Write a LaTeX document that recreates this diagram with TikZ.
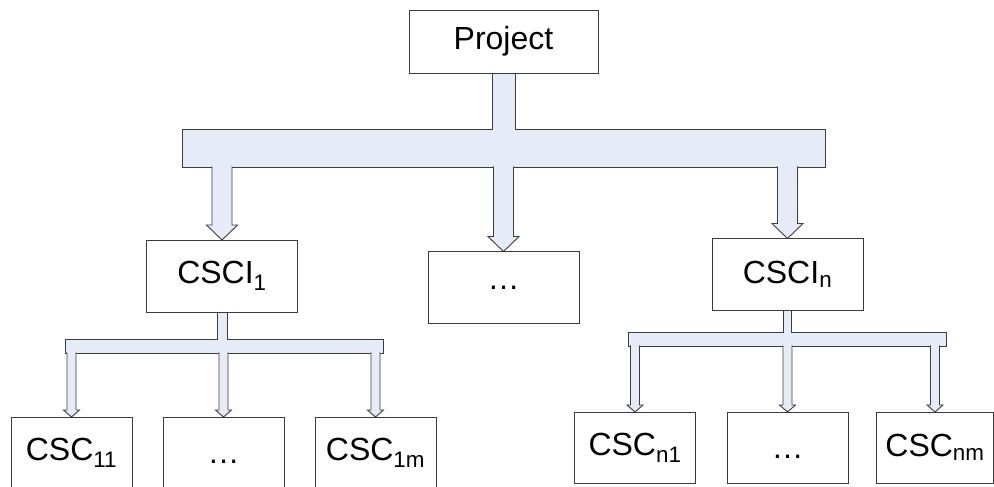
\documentclass[tikz,border=0pt]{standalone}
\usepackage{fontspec}
\setmainfont{Liberation Sans}
\usetikzlibrary{calc}
\definecolor{busfill}{RGB}{229,236,247}
\definecolor{edge}{RGB}{60,60,60}

\begin{document}
\begin{tikzpicture}[x=1pt,y=-1pt]
\useasboundingbox (0,0) rectangle (994,487);
\tikzstyle{box}=[draw=edge, line width=0.9pt, fill=white, inner sep=0pt, outer sep=0pt,
                 minimum width=151pt, minimum height=72pt, font=\fontsize{32}{36}\selectfont]
\tikzstyle{leaf}=[box, minimum width=121pt, minimum height=71pt]
\tikzstyle{bus}=[draw=edge, line width=0.9pt, fill=busfill]
\tikzstyle{busbar}=[bus, inner sep=0pt, outer sep=0pt]
% boxes
\node[box, minimum width=189pt, minimum height=63pt](proj) at (503.5,41.5){Project};
\node[box](csci1) at (222,276){CSCI\textsubscript{1}};
\node[box](dots) at (503.5,287.5){\dots};
\node[box](cscin) at (787.5,274.5){CSCI\textsubscript{n}};
\node[leaf](csc11) at (71.5,452.5){CSC\textsubscript{11}};
\node[leaf](csc1d) at (223.5,452.5){\vphantom{C}\dots};
\node[leaf](csc1m) at (375.5,452.5){CSC\textsubscript{1m}};
\node[leaf](cscn1) at (635,447.5){CSC\textsubscript{n1}};
\node[leaf](cscnd) at (787.5,447.5){\vphantom{C}\dots};
\node[leaf, minimum width=117pt](cscnm) at (935,447.5){CSC\textsubscript{nm}};
% bus bars
\node[busbar, minimum width=643pt, minimum height=38pt](bar) at (503.5,148){};
\node[busbar, minimum width=318pt, minimum height=14pt](bar1) at (224,346){};
\node[busbar, minimum width=318pt, minimum height=14pt](barn) at (787,339){};
% stems
\foreach \a/\b/\w in {proj/bar/11.5pt, csci1/bar1/5pt, cscin/barn/4pt}{
 \filldraw[bus] let \p1=(\a.south), \p2=(\b.north) in
  (\x1-\w,\y2-0.6pt) -- (\x1-\w,\y1) -- (\x1+\w,\y1) -- (\x1+\w,\y2-0.6pt);}
% big arrows
\foreach \b/\c in {bar/csci1, bar/dots, bar/cscin}{
 \filldraw[bus] let \p1=(\c.north), \p2=(\b.south) in
  (\x1-10pt,\y2+0.6pt) -- (\x1-10pt,\y1+15pt) -- (\x1-15.5pt,\y1+15pt) -- (\x1,\y1)
  -- (\x1+15.5pt,\y1+15pt) -- (\x1+10pt,\y1+15pt) -- (\x1+10pt,\y2+0.6pt);}
% small arrows
\foreach \b/\c in {bar1/csc11, bar1/csc1d, bar1/csc1m, barn/cscn1, barn/cscnd, barn/cscnm}{
 \filldraw[bus] let \p1=(\c.north), \p2=(\b.south) in
  (\x1-4.5pt,\y2+0.6pt) -- (\x1-4.5pt,\y1+7pt) -- (\x1-8pt,\y1+7pt) -- (\x1,\y1)
  -- (\x1+8pt,\y1+7pt) -- (\x1+4.5pt,\y1+7pt) -- (\x1+4.5pt,\y2+0.6pt);}
\end{tikzpicture}
\end{document}
